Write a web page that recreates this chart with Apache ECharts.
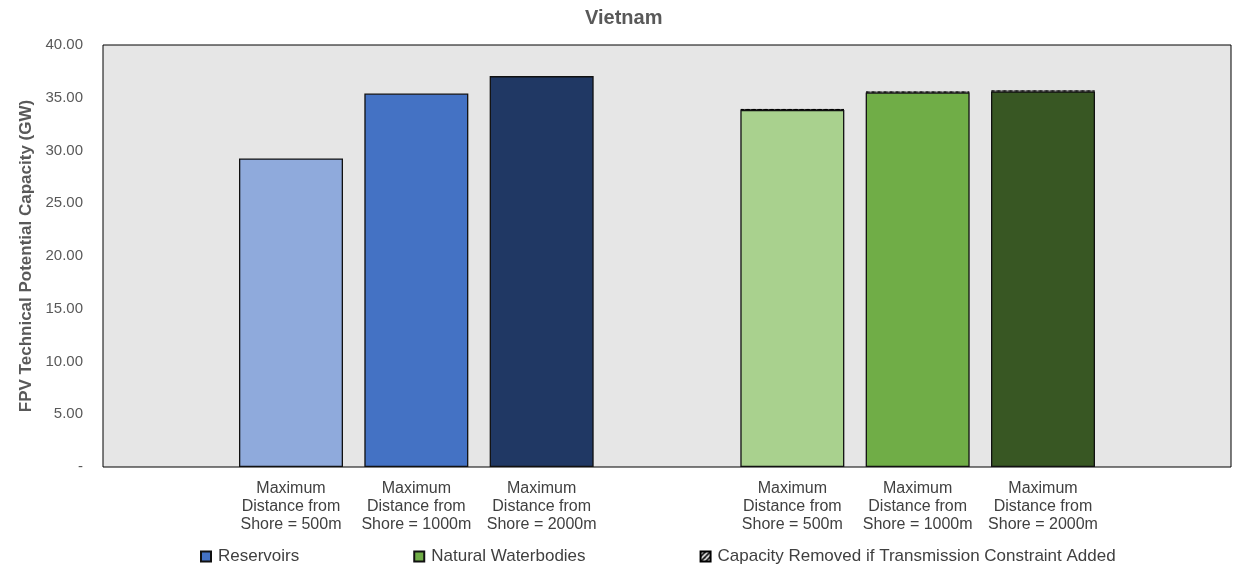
<!DOCTYPE html>
<html>
<head>
<meta charset="utf-8">
<script src="https://cdn.jsdelivr.net/npm/echarts@6/dist/echarts.min.js"></script>
<style>html,body{margin:0;padding:0;background:#fff;}#c{width:1236px;height:567px;}</style>
</head>
<body>
<div id="c"></div>
<script>
const categories = ['', 'Maximum\nDistance from\nShore = 500m', 'Maximum\nDistance from\nShore = 1000m', 'Maximum\nDistance from\nShore = 2000m', '', 'Maximum\nDistance from\nShore = 500m', 'Maximum\nDistance from\nShore = 1000m', 'Maximum\nDistance from\nShore = 2000m', ''];
const reservoirs = [null, 29.25, 35.4, 37.05, null, null, null, null, null];
const natural = [null, null, null, null, null, 33.85, 35.5, 35.6, null];
const removed = [null, null, null, null, null, 0.08, 0.08, 0.08, null];
const yTicks = [0, 5, 10, 15, 20, 25, 30, 35, 40];

const reservoirColors = {1: '#8FAADC', 2: '#4472C4', 3: '#203864'};
const naturalColors = {5: '#A9D18E', 6: '#70AD47', 7: '#385723'};

function hatch() {
  const c = document.createElement('canvas');
  c.width = 5; c.height = 5;
  const g = c.getContext('2d');
  g.fillStyle = '#fff'; g.fillRect(0, 0, 5, 5);
  g.strokeStyle = '#000'; g.lineWidth = 1.8;
  g.beginPath(); g.moveTo(0, 5); g.lineTo(5, 0); g.stroke();
  g.beginPath(); g.moveTo(-1, 1); g.lineTo(1, -1); g.stroke();
  g.beginPath(); g.moveTo(4, 6); g.lineTo(6, 4); g.stroke();
  return c;
}

const chart = echarts.init(document.getElementById('c'));
const font = '"Liberation Sans", Arial, sans-serif';
chart.setOption({
  animation: false,
  textStyle: {fontFamily: font},
  title: {text: 'Vietnam', left: 580, top: 3, textStyle: {fontSize: 20, fontWeight: 'bold', color: '#595959', fontFamily: font}},
  grid: {left: 103, right: 5, top: 45, bottom: 100, show: true, backgroundColor: '#E6E6E6', borderColor: '#000', borderWidth: 1},
  legend: {
    left: 195, top: 543, itemWidth: 10, itemHeight: 10, itemGap: 114, icon: 'rect',
    textStyle: {fontSize: 17, color: '#404040', fontFamily: font, padding: [0, 0, 0, 2]},
    data: ['Reservoirs', 'Natural Waterbodies', 'Capacity Removed if Transmission Constraint Added']
  },
  xAxis: {
    type: 'category', data: categories,
    axisLine: {show: false}, axisTick: {show: false},
    axisLabel: {interval: 0, fontSize: 16, color: '#404040', lineHeight: 18, margin: 13, fontFamily: font}
  },
  yAxis: {
    type: 'value', min: 0, max: 40, interval: 5,
    splitLine: {show: false}, axisLine: {show: false}, axisTick: {show: false},
    axisLabel: {fontSize: 15, color: '#595959', margin: 20, fontFamily: font,
      formatter: v => v === 0 ? '-' : v.toFixed(2)},
    name: 'FPV Technical Potential Capacity (GW)', nameLocation: 'middle', nameGap: 68,
    nameTextStyle: {fontSize: 17, fontWeight: 'bold', color: '#595959', fontFamily: font}
  },
  series: [
    {
      name: 'Reservoirs', type: 'bar', stack: 'all', barWidth: 104,
      itemStyle: {color: '#4472C4', borderColor: '#111', borderWidth: 1.3},
      data: reservoirs.map((v, i) => v == null ? null : {value: v, itemStyle: {color: reservoirColors[i]}})
    },
    {
      name: 'Natural Waterbodies', type: 'bar', stack: 'all', barWidth: 104,
      itemStyle: {color: '#70AD47', borderColor: '#111', borderWidth: 1.3},
      data: natural.map((v, i) => v == null ? null : {value: v, itemStyle: {color: naturalColors[i]}})
    },
    {
      name: 'Capacity Removed if Transmission Constraint Added', type: 'bar', stack: 'all', barWidth: 104,
      itemStyle: {color: {image: hatch(), repeat: 'repeat'}, borderColor: '#000', borderWidth: 1, borderType: 'dashed'},
      data: removed
    }
  ]
});
</script>
</body>
</html>
